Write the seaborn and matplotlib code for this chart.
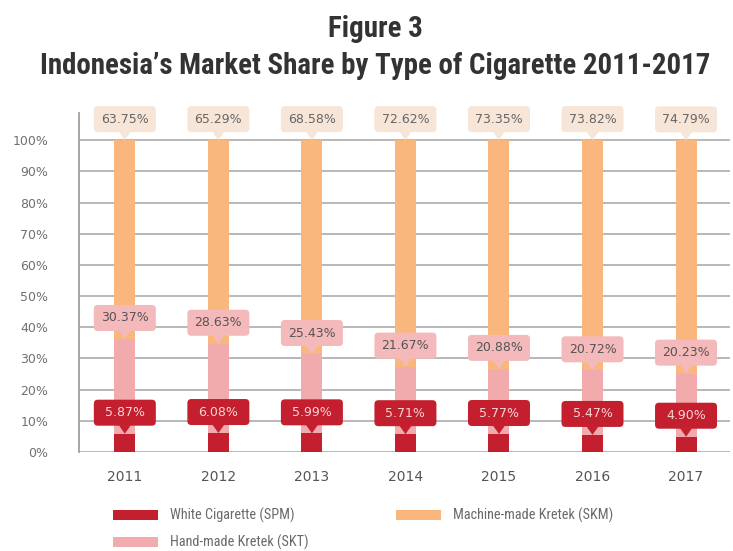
import matplotlib
matplotlib.use("Agg")
import matplotlib.pyplot as plt
import seaborn as sns
import pandas as pd
import numpy as np
from matplotlib import font_manager
from matplotlib.patches import FancyBboxPatch, Polygon, Rectangle

# ---- data ----
years = ["2011", "2012", "2013", "2014", "2015", "2016", "2017"]
spm = [5.87, 6.08, 5.99, 5.71, 5.77, 5.47, 4.90]          # White Cigarette
skt = [30.37, 28.63, 25.43, 21.67, 20.88, 20.72, 20.23]   # Hand-made Kretek
skm = [63.75, 65.29, 68.58, 72.62, 73.35, 73.82, 74.79]   # Machine-made Kretek
series_names = ["White Cigarette (SPM)", "Hand-made Kretek (SKT)", "Machine-made Kretek (SKM)"]
y_ticks = list(range(0, 101, 10))
title_1 = "Figure 3"
title_2 = "Indonesia\u2019s Market Share by Type of Cigarette 2011-2017"

# ---- style ----
c_spm, c_skt, c_skm = "#c41f2e", "#f2abad", "#f9b77d"
box_spm, box_skt, box_skm = "#c41f2e", "#f4b9ba", "#f7e5d8"
txt_spm, txt_skt, txt_skm = "#f7d5d5", "#555555", "#666666"

sns.set_style("white")
plt.rcParams["font.family"] = ["DejaVu Sans"]
_names = {f.name for f in font_manager.fontManager.ttflist}
cond_font = next((n for n in ["Roboto Condensed", "Open Sans Condensed", "Liberation Sans Narrow"]
                  if n in _names), "DejaVu Sans")

W, H = 733, 551
PX = 100 / 72  # pixels per point
fig = plt.figure(figsize=(W / 100, H / 100), dpi=100)
ax = fig.add_axes([79 / W, (H - 452) / H, (730 - 79) / W, (452 - 113) / H])

df = pd.DataFrame({"year": years, "spm": spm, "skt": skt, "skm": skm})
df["c1"] = df["spm"]
df["c2"] = df["spm"] + df["skt"]
df["c3"] = df["c2"] + df["skm"]

bw = 0.225
for col, c, z in (("c3", c_skm, 2), ("c2", c_skt, 3), ("c1", c_spm, 4)):
    sns.barplot(data=df, x="year", y=col, color=c, width=bw, saturation=1, ax=ax,
                zorder=z, linewidth=0, edgecolor="none")

ax.set_xlim(-0.49, 6.47)
ax.set_ylim(0, 108.7)
ax.set_yticks(y_ticks)
ax.set_yticklabels([f"{t}%" for t in y_ticks])
ax.set_xlabel("")
ax.set_ylabel("")
ax.yaxis.grid(True, color="#b8b8b8", lw=1.4)
ax.xaxis.grid(False)
ax.set_axisbelow(True)
for s in ["top", "right", "bottom"]:
    ax.spines[s].set_visible(False)
ax.spines["left"].set_color("#a0a0a0")
ax.spines["left"].set_linewidth(1.3)
ax.tick_params(axis="y", length=0, pad=22, labelsize=9, labelcolor="#707070")
ax.tick_params(axis="x", length=0, pad=13, labelsize=10, labelcolor="#555555")

# pixel -> data conversion
fig.canvas.draw()
r = fig.canvas.get_renderer()
px_x = (ax.get_xlim()[1] - ax.get_xlim()[0]) / (ax.get_window_extent().width)
px_y = (ax.get_ylim()[1] - ax.get_ylim()[0]) / (ax.get_window_extent().height)
aspect = px_y / px_x

box_w, box_h = 62 * px_x, 26 * px_y
tri_hw, tri_h = 6 * px_x, 8 * px_y


def callout(x, tip, text, face, tcolor, z):
    cy = tip + tri_h + box_h / 2
    ax.add_patch(Polygon([[x - tri_hw, tip + tri_h + 0.5 * px_y], [x + tri_hw, tip + tri_h + 0.5 * px_y], [x, tip]],
                         closed=True, facecolor=face, edgecolor="none", zorder=z, clip_on=False))
    ax.add_patch(FancyBboxPatch((x - box_w / 2, cy - box_h / 2), box_w, box_h,
                                boxstyle=f"round,pad=0,rounding_size={4 * px_x}",
                                mutation_aspect=aspect, facecolor=face, edgecolor="none",
                                zorder=z, clip_on=False))
    ax.text(x, cy, text, ha="center", va="center", fontsize=9, color=tcolor, zorder=z + 1, clip_on=False)


for i in range(len(years)):
    callout(i, df["c1"][i], f"{spm[i]:.2f}%", box_spm, txt_spm, 10)
    callout(i, df["c2"][i], f"{skt[i]:.2f}%", box_skt, txt_skt, 8)
    callout(i, df["c3"][i], f"{skm[i]:.2f}%", box_skm, txt_skm, 8)

# titles (size fitted to the reference's widths)
xc = 375 / W
t1 = fig.text(xc, 1 - 37 / H, title_1, ha="center", va="baseline", fontsize=15,
              fontweight="bold", color="#333333", family=cond_font)
t2 = fig.text(xc, 1 - 74 / H, title_2, ha="center", va="baseline", fontsize=15,
              fontweight="bold", color="#333333", family=cond_font)
fs = 15 * 670 / t2.get_window_extent(r).width
t2.set_fontsize(fs)
t1.set_fontsize(fs)

# legend font size fitted to the reference's label width
probe = fig.text(0, 0, series_names[2], fontsize=10, family=cond_font)
lfs = 10 * 160 / probe.get_window_extent(r).width
probe.remove()
em = lfs * PX


def make_legend(spacing, top):
    handles = [Rectangle((0, 0), 1, 1, facecolor=c, edgecolor="none") for c in (c_spm, c_skt, c_skm)]
    lg = fig.legend(handles, series_names, loc="upper left", bbox_to_anchor=(113 / W, 1 - top / H),
                    ncol=2, frameon=False, prop={"family": cond_font, "size": lfs},
                    handlelength=45 / em, handleheight=9 / em, handletextpad=12 / em,
                    columnspacing=87 / em, labelspacing=spacing, borderpad=0, borderaxespad=0)
    for t in lg.get_texts():
        t.set_color("#6a6a6a")
    return lg


row1, row_gap = 515, 27
spacing, top = 1.5, 508.0
for _ in range(3):
    leg = make_legend(spacing, top)
    fig.canvas.draw()
    hs = leg.legend_handles
    e0 = hs[0].get_window_extent(r)
    e1 = hs[1].get_window_extent(r)
    y0 = H - (e0.y0 + e0.y1) / 2
    y1 = H - (e1.y0 + e1.y1) / 2
    spacing += (row_gap - (y1 - y0)) / em
    top += row1 - y0
    leg.remove()
leg = make_legend(spacing, top)

fig.savefig("out.png", dpi=100)
